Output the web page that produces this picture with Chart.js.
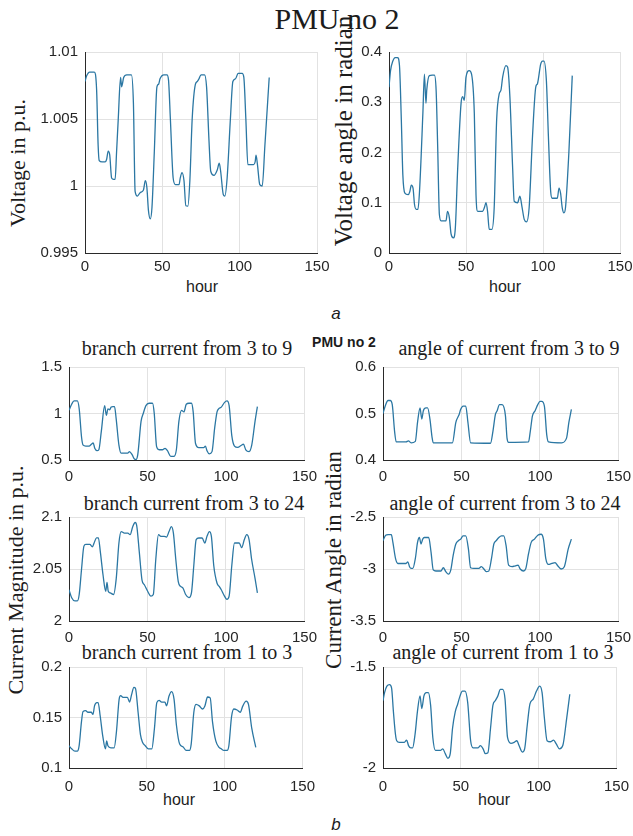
<!DOCTYPE html>
<html>
<head>
<meta charset="utf-8">
<script src="https://cdn.jsdelivr.net/npm/chart.js@4"></script>
<style>
  body { margin: 0; background: #fff; }
  #fig { position: relative; width: 633px; height: 836px; overflow: hidden; background: #fff; }
  #fig canvas { position: absolute; }
  .lbl { position: absolute; white-space: nowrap; line-height: 1; color: #1c1c1c; transform: translate(-50%, -50%); }
  .rot { transform: translate(-50%, -50%) rotate(-90deg); }
  .serif { font-family: 'Liberation Serif', 'Times New Roman', serif; }
  .sans { font-family: 'Liberation Sans', Arial, sans-serif; }
</style>
</head>
<body>
<div id="fig">
  <!-- part a -->
  <div class="lbl serif" style="left:337px;top:19px;font-size:30px">PMU no 2</div>
  <div class="lbl serif rot" style="left:18px;top:163px;font-size:22px">Voltage in p.u.</div>
  <div class="lbl serif rot" style="left:343px;top:131px;font-size:25px">Voltage angle in radian</div>
  <div class="lbl sans" style="left:202px;top:287px;font-size:16px">hour</div>
  <div class="lbl sans" style="left:505px;top:287px;font-size:16px">hour</div>
  <div class="lbl sans" style="left:336px;top:313px;font-size:17px;font-style:italic">a</div>

  <!-- part b -->
  <div class="lbl sans" style="left:344px;top:342px;font-size:14px;font-weight:bold">PMU no 2</div>
  <div class="lbl serif" style="left:187px;top:348px;font-size:20px">branch current from 3 to 9</div>
  <div class="lbl serif" style="left:509px;top:348px;font-size:20px">angle of current from 3 to 9</div>
  <div class="lbl serif" style="left:194px;top:503px;font-size:20px">branch current from 3 to 24</div>
  <div class="lbl serif" style="left:505px;top:503px;font-size:20px">angle of current from 3 to 24</div>
  <div class="lbl serif" style="left:187px;top:652px;font-size:20px">branch current from 1 to 3</div>
  <div class="lbl serif" style="left:503px;top:652px;font-size:20px">angle of current from 1 to 3</div>
  <div class="lbl serif rot" style="left:16px;top:580px;font-size:22px">Current Magnitude in p.u.</div>
  <div class="lbl serif rot" style="left:333px;top:560px;font-size:23px">Current Angle in radian</div>
  <div class="lbl sans" style="left:179px;top:800px;font-size:16px">hour</div>
  <div class="lbl sans" style="left:494px;top:800px;font-size:16px">hour</div>
  <div class="lbl sans" style="left:336px;top:824px;font-size:17px;font-style:italic">b</div>
</div>

<script>
// [hour, value]
var voltage = [[0,1.0078],[1,1.0082],[3,1.0085],[6,1.0085],[7.5,1.0072],[8.5,1.003],[9.2,1.0019],[11,1.0018],[13,1.0018],[14,1.002],[15,1.0026],[16,1.0023],[17.2,1.0006],[18.5,1.0005],[19.5,1.0005],[20.4,1.0025],[21.5,1.005],[23,1.0081],[23.7,1.0074],[25,1.0081],[27,1.0083],[30,1.0083],[31.3,1.0062],[32.4,0.9996],[33.9,0.99925],[35.6,0.9995],[37.8,0.9997],[39,1.0004],[40,0.9999],[41,0.9982],[42.2,0.99755],[43.3,0.9984],[44.8,1.0025],[46.5,1.0074],[47.6,1.0076],[48.5,1.008],[51,1.0083],[53,1.0083],[54,1.0079],[55.2,1.005],[57,1.0006],[58.5,1.0001],[60.8,1.0001],[61.6,1.0006],[62.7,1.001],[64,1.0004],[65.2,0.99853],[66.5,0.9985],[67.8,1.0004],[69.3,1.005],[71.4,1.0076],[72.6,1.0078],[73.7,1.008],[75,1.0083],[77.3,1.0083],[78.6,1.0074],[80.2,1.0033],[81.3,1.0011],[83.4,1.0008],[85.5,1.0012],[86.8,1.0017],[87.7,1.0011],[89.4,0.99937],[90.4,0.99925],[91.9,1.0006],[94,1.005],[95.6,1.0078],[97.3,1.008],[99,1.0084],[101.6,1.0084],[102.7,1.0081],[104,1.005],[105.3,1.0016],[107,1.0016],[109,1.0016],[110,1.0018],[110.6,1.0023],[111.5,1.0016],[113,1.0001],[114.6,1.0],[116.3,1.003],[119.1,1.0081]];

var voltAngle = [[0,0.33],[1,0.363],[2.5,0.382],[4,0.389],[5.5,0.389],[6.8,0.373],[8,0.265],[9,0.155],[10.3,0.119],[12.4,0.116],[13.5,0.122],[14.5,0.135],[15.6,0.129],[16.6,0.096],[17.7,0.087],[18.8,0.087],[19.8,0.122],[22,0.278],[23,0.356],[24,0.298],[24.5,0.324],[26.2,0.353],[28,0.354],[29.5,0.354],[30.6,0.324],[31.6,0.213],[32.7,0.077],[33.8,0.064],[37,0.064],[38,0.083],[39.2,0.07],[40.3,0.038],[41.8,0.03],[43.1,0.051],[44.6,0.168],[46.8,0.298],[47.8,0.311],[48.9,0.304],[50,0.35],[52.1,0.363],[53.6,0.356],[55.4,0.278],[56.5,0.116],[57.6,0.083],[60.8,0.083],[61.9,0.09],[63,0.1],[64,0.083],[65.1,0.047],[66.8,0.047],[68.3,0.09],[69.9,0.265],[71.6,0.317],[72.7,0.324],[73.8,0.35],[75.9,0.373],[77,0.37],[78.5,0.311],[80.3,0.168],[81.3,0.103],[83.5,0.1],[85,0.113],[86.3,0.093],[87.8,0.067],[89.3,0.062],[91,0.09],[93.2,0.233],[95.3,0.33],[96.4,0.337],[98.5,0.376],[99.6,0.382],[100.6,0.382],[102.2,0.343],[103.5,0.233],[105,0.122],[106,0.109],[109.3,0.109],[110.4,0.129],[111.4,0.119],[112.5,0.09],[113.6,0.08],[114.6,0.09],[116.8,0.2],[119,0.353]];

var cur3to9 = [[0,1.034],[1.7,1.1],[3.2,1.136],[5.3,1.136],[6.5,1.05],[8,0.745],[9,0.66],[10.7,0.65],[12.8,0.65],[14.3,0.67],[15.4,0.684],[16.4,0.626],[17.9,0.6],[19,0.61],[20.6,0.81],[22.7,1.085],[23.8,0.98],[24.8,1.05],[25.9,1.04],[26.9,1.07],[28,1.075],[29,1.075],[30,0.95],[31.8,0.66],[33.2,0.575],[37.4,0.575],[38.5,0.59],[40.2,0.557],[41.7,0.51],[42.7,0.505],[43.8,0.557],[45.9,0.915],[47.3,1.0],[49,1.085],[51,1.11],[53.2,1.11],[54.3,1.0],[55.8,0.643],[57.4,0.61],[59.5,0.61],[61.2,0.626],[62.7,0.6],[64.8,0.54],[66.9,0.54],[68.4,0.61],[70,0.915],[71.7,1.034],[73.2,1.017],[74.7,1.1],[76.4,1.11],[78,1.11],[79.1,1.017],[80.6,0.677],[82.7,0.633],[85.8,0.633],[86.9,0.65],[87.9,0.6],[89.4,0.566],[91.1,0.59],[92.8,0.845],[94.3,1.017],[95.3,1.05],[97,1.068],[99.1,1.12],[100.6,1.136],[102,1.085],[103.7,0.762],[105.4,0.65],[107.5,0.636],[109.6,0.656],[111.1,0.67],[112.6,0.61],[114.7,0.59],[116.4,0.66],[118.5,0.915],[120,1.075]];

var ang3to9 = [[0,0.5],[1.7,0.519],[3.2,0.528],[4.6,0.528],[5.9,0.519],[7.4,0.461],[8.4,0.439],[14.7,0.439],[16.2,0.441],[17.9,0.437],[20.6,0.44],[22,0.481],[23.6,0.512],[24.7,0.488],[25.7,0.506],[27.4,0.512],[28.4,0.512],[29.9,0.488],[31.2,0.45],[32,0.437],[44.2,0.437],[46.4,0.481],[48.5,0.498],[49.5,0.509],[51,0.516],[52.7,0.516],[54.1,0.481],[55.8,0.437],[68.5,0.436],[70,0.461],[71.6,0.498],[72.7,0.506],[74.2,0.519],[75.9,0.519],[78,0.495],[79,0.447],[80,0.438],[92.7,0.439],[93.8,0.461],[95.2,0.495],[96.9,0.506],[98.6,0.519],[100,0.526],[101.1,0.526],[102.8,0.516],[104.3,0.454],[105.4,0.439],[113.8,0.437],[116.9,0.447],[118.4,0.481],[120,0.509]];

var cur3to24 = [[0,2.030],[1.7,2.0224],[3.8,2.0193],[5.3,2.0193],[6.5,2.0255],[8,2.05],[9.5,2.072],[10.7,2.0736],[13.3,2.0736],[14.9,2.0714],[16,2.075],[17.5,2.08],[18.7,2.08],[20,2.066],[21.7,2.044],[23.4,2.0286],[24.2,2.037],[25,2.0286],[26.3,2.027],[28.4,2.0255],[30.1,2.041],[31.8,2.075],[33.2,2.086],[35.3,2.0845],[37.5,2.0845],[38.9,2.083],[40.6,2.0907],[42.1,2.0947],[43.1,2.092],[44.8,2.066],[46.5,2.0394],[48,2.0348],[50.1,2.0286],[52.2,2.0239],[53.7,2.0255],[55.3,2.0596],[57,2.083],[58.5,2.0814],[60.6,2.0814],[62.1,2.0807],[63.7,2.086],[65.2,2.0907],[66.5,2.0845],[68,2.0596],[69.6,2.0379],[71.1,2.0332],[72.6,2.0317],[74.3,2.0255],[76.4,2.0224],[78,2.027],[79.5,2.0534],[81,2.0783],[82.7,2.0798],[84.8,2.0798],[86.5,2.075],[87.9,2.0814],[89.4,2.086],[90.7,2.0814],[92.2,2.0534],[94.3,2.0363],[95.7,2.0332],[97,2.03],[98.5,2.0255],[100.6,2.0208],[102,2.0239],[103.7,2.0534],[105.4,2.075],[108.4,2.075],[110,2.0705],[111.7,2.0783],[113.2,2.083],[114.7,2.0783],[116.3,2.0596],[118.5,2.041],[120,2.027]];

var ang3to24 = [[0,-2.728],[1.7,-2.675],[3.2,-2.669],[5.3,-2.669],[6.3,-2.744],[8,-2.9],[9.5,-2.947],[14.7,-2.947],[15.8,-2.931],[16.9,-2.978],[17.9,-2.994],[19,-2.994],[20.6,-2.9],[22,-2.744],[23.2,-2.697],[24.2,-2.76],[25.3,-2.713],[26.3,-2.697],[29.1,-2.697],[30.6,-2.838],[32,-3.009],[33.7,-3.019],[36.9,-3.019],[38.4,-2.988],[40,-3.025],[41.7,-3.05],[43.2,-3.009],[44.7,-2.869],[46.4,-2.76],[48,-2.728],[49.5,-2.713],[51,-2.681],[52.7,-2.681],[54.4,-2.806],[55.8,-2.988],[57.9,-2.994],[61.1,-2.994],[62.6,-2.978],[64.3,-3.0],[65.7,-3.025],[67.4,-3.019],[69.1,-2.9],[70.6,-2.76],[72.1,-2.728],[73.8,-2.697],[75.4,-2.681],[76.9,-2.681],[78.4,-2.775],[80,-2.963],[82.2,-2.978],[84.3,-2.969],[86,-2.963],[87.4,-3.0],[89.5,-3.019],[91,-2.994],[92.7,-2.853],[94.4,-2.744],[96.5,-2.713],[98.6,-2.675],[100.7,-2.666],[102.2,-2.713],[103.7,-2.9],[105.4,-2.956],[107.5,-2.947],[109.6,-2.938],[111.3,-2.969],[113.4,-3.0],[115.5,-2.978],[118,-2.806],[120,-2.713]];

var cur1to3 = [[0,0.122],[1.7,0.119],[3.8,0.1167],[5.3,0.1167],[6.5,0.122],[8,0.1457],[9,0.1558],[10.7,0.1568],[12.2,0.1552],[14.3,0.1552],[15.4,0.153],[16.4,0.1615],[17.9,0.1647],[18.7,0.1647],[20,0.152],[21.7,0.1315],[23.4,0.119],[24.2,0.1268],[25,0.122],[26.9,0.12],[29,0.12],[30.5,0.1363],[32.2,0.168],[33.2,0.1716],[34.7,0.17],[37.5,0.17],[38.9,0.1653],[40.2,0.1726],[41.7,0.1798],[42.7,0.1789],[44.4,0.155],[45.9,0.133],[47.3,0.1252],[49,0.122],[51,0.119],[53.2,0.119],[54.9,0.1394],[56.4,0.1647],[57.9,0.167],[59.5,0.1653],[61.6,0.1653],[62.7,0.1615],[64.2,0.171],[65.9,0.1757],[67.5,0.168],[69,0.1426],[71.1,0.1237],[73.2,0.1211],[75.3,0.1174],[77.4,0.1174],[78.5,0.1237],[80.2,0.1552],[81.6,0.163],[83.7,0.1615],[85.8,0.1584],[87.3,0.1615],[89,0.1703],[90.7,0.1694],[92.2,0.1457],[94.3,0.1268],[96.4,0.1205],[97.8,0.119],[99.5,0.1174],[101.6,0.1174],[102.7,0.122],[104.4,0.1505],[105.9,0.1584],[108,0.1574],[110,0.1552],[111.7,0.1615],[113.8,0.1662],[115.3,0.163],[117.4,0.1394],[120,0.1205]];

var ang1to3 = [[0,-1.667],[1,-1.627],[2.5,-1.595],[4.2,-1.587],[5.5,-1.603],[6.7,-1.722],[8,-1.833],[8.8,-1.865],[10.5,-1.873],[13.7,-1.873],[15.2,-1.862],[16.4,-1.889],[17.9,-1.9],[19,-1.9],[20.6,-1.833],[22.1,-1.722],[23.8,-1.643],[24.9,-1.706],[26.3,-1.643],[27.8,-1.627],[29.1,-1.627],[30.6,-1.69],[32,-1.849],[33.7,-1.913],[36.9,-1.913],[38.4,-1.905],[40,-1.929],[41.7,-1.952],[43.2,-1.929],[44.7,-1.802],[46.4,-1.722],[48,-1.683],[49.5,-1.643],[51,-1.619],[52.7,-1.619],[54.4,-1.675],[56.3,-1.865],[57.9,-1.9],[61.1,-1.9],[62.6,-1.889],[64.3,-1.905],[65.7,-1.929],[67.4,-1.925],[69.1,-1.802],[70.6,-1.69],[72.1,-1.667],[73.8,-1.643],[75.4,-1.611],[76.9,-1.611],[78.4,-1.659],[80,-1.849],[82.2,-1.878],[84.3,-1.873],[86,-1.865],[87.4,-1.889],[89.5,-1.921],[91,-1.905],[92.7,-1.786],[94.4,-1.683],[96.5,-1.659],[98.6,-1.619],[100.7,-1.595],[102.2,-1.627],[103.7,-1.754],[105.4,-1.865],[107.5,-1.87],[109.6,-1.862],[111.3,-1.881],[113.4,-1.905],[115.5,-1.889],[118,-1.754],[120,-1.635]];

var hourTicks = [0, 50, 100, 150];

var LINE = '#2b77a3';
var GRID = '#e2e2e2';
var AXIS = '#2a2a2a';
var fig = document.getElementById('fig');

Chart.defaults.font.family = "'Liberation Sans', Arial, sans-serif";
Chart.defaults.font.size = 15;
Chart.defaults.color = '#262626';

// one small chart; box = plot area in page pixels
function makePlot(box, points, yMin, yMax, yStep, xPad) {
    var yw = 60, xh = 30, pt = 12, pr = 18;
    var w = box.r - box.l + yw + pr;
    var h = box.b - box.t + pt + xh;
    var cv = document.createElement('canvas');
    cv.width = w; cv.height = h;
    cv.style.left = (box.l - yw) + 'px';
    cv.style.top = (box.t - pt) + 'px';
    cv.style.width = w + 'px';
    cv.style.height = h + 'px';
    fig.appendChild(cv);

    return new Chart(cv.getContext('2d'), {
        type: 'line',
        data: {
            datasets: [{
                data: points.map(function (p) { return { x: p[0], y: p[1] }; }),
                borderColor: LINE,
                borderWidth: 1.3,
                pointRadius: 0,
                cubicInterpolationMode: 'monotone',
                fill: false
            }]
        },
        options: {
            responsive: false,
            animation: false,
            devicePixelRatio: 1,
            layout: { padding: { left: 0, top: pt, right: pr, bottom: 0 } },
            plugins: { legend: { display: false }, tooltip: { enabled: false } },
            scales: {
                x: {
                    type: 'linear',
                    min: hourTicks[0],
                    max: hourTicks[hourTicks.length - 1],
                    afterFit: function (s) { s.height = xh; },
                    afterBuildTicks: function (s) { s.ticks = hourTicks.map(function (v) { return { value: v }; }); },
                    ticks: { padding: xPad, maxRotation: 0, autoSkip: false },
                    grid: { color: GRID, drawTicks: false },
                    border: { color: AXIS, width: 1 }
                },
                y: {
                    min: yMin,
                    max: yMax,
                    afterFit: function (s) { s.width = yw; },
                    ticks: {
                        stepSize: yStep,
                        padding: 7,
                        callback: function (v) { return String(+Number(v).toFixed(4)); }
                    },
                    grid: { color: GRID, drawTicks: false },
                    border: { color: AXIS, width: 1 }
                }
            }
        }
    });
}

// part a
makePlot({ l: 85, r: 317, t: 48, b: 253 }, voltage, 0.995, 1.01, 0.005, 5);
makePlot({ l: 389, r: 620, t: 48, b: 253 }, voltAngle, 0, 0.4, 0.1, 5);

// part b
makePlot({ l: 69, r: 307, t: 363, b: 460 }, cur3to9, 0.5, 1.5, 0.5, 8);
makePlot({ l: 383, r: 621, t: 363, b: 460 }, ang3to9, 0.4, 0.6, 0.1, 8);
makePlot({ l: 69, r: 307, t: 513, b: 621 }, cur3to24, 2, 2.1, 0.05, 8);
makePlot({ l: 383, r: 621, t: 513, b: 621 }, ang3to24, -3.5, -2.5, 0.5, 8);
makePlot({ l: 69, r: 307, t: 663, b: 768 }, cur1to3, 0.1, 0.2, 0.05, 10);
makePlot({ l: 383, r: 621, t: 663, b: 768 }, ang1to3, -2, -1.5, 0.5, 10);
</script>
</body>
</html>
